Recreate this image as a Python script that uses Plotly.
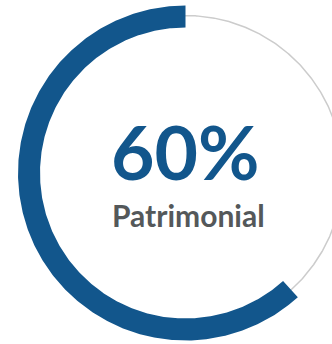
import numpy as np
import plotly.graph_objects as go

# Data
label_value = 60          # percentage shown in the label
arc_value = 61.7          # arc fraction as drawn (%)
label_text = "Patrimonial"

# Styling / geometry
W, H = 332, 344
cx, cy = 185.5, 173
r_out, r_in = 167.5, 145.5
r_track = 157.5
blue = "#12568c"
grey_text = "#54585a"
track_col = "#cccccc"

fig = go.Figure()

# Track circle
t = np.linspace(0, 2 * np.pi, 721)
fig.add_trace(go.Scatter(
    x=cx + r_track * np.cos(t), y=cy - r_track * np.sin(t),
    mode="lines", line=dict(color=track_col, width=1.5),
    hoverinfo="skip", showlegend=False))

# Progress arc (counterclockwise from top)
a0 = np.pi / 2
a1 = a0 + 2 * np.pi * arc_value / 100
a = np.linspace(a0, a1, 400)
xs = np.concatenate([cx + r_out * np.cos(a), cx + r_in * np.cos(a[::-1])])
ys = np.concatenate([cy - r_out * np.sin(a), cy - r_in * np.sin(a[::-1])])
fig.add_trace(go.Scatter(
    x=np.append(xs, xs[0]), y=np.append(ys, ys[0]),
    mode="lines", fill="toself", fillcolor=blue, line=dict(width=0, color=blue),
    hoverinfo="skip", showlegend=False))

fig.add_annotation(x=184.5, y=151, xref="x", yref="y", text=f"{label_value}%",
                   showarrow=False, xanchor="center", yanchor="middle",
                   font=dict(family="Lato", size=75, color=blue, weight="bold"))
fig.add_annotation(x=188.5, y=215, xref="x", yref="y", text=label_text,
                   showarrow=False, xanchor="center", yanchor="middle",
                   font=dict(family="Lato", size=30, color=grey_text, weight="bold"))

fig.update_layout(
    width=W, height=H, margin=dict(l=0, r=0, t=0, b=0),
    paper_bgcolor="white", plot_bgcolor="white",
    xaxis=dict(range=[0, W], visible=False, fixedrange=True),
    yaxis=dict(range=[H, 0], visible=False, fixedrange=True),
)
fig.write_html("out.html", config={"displayModeBar": False})
